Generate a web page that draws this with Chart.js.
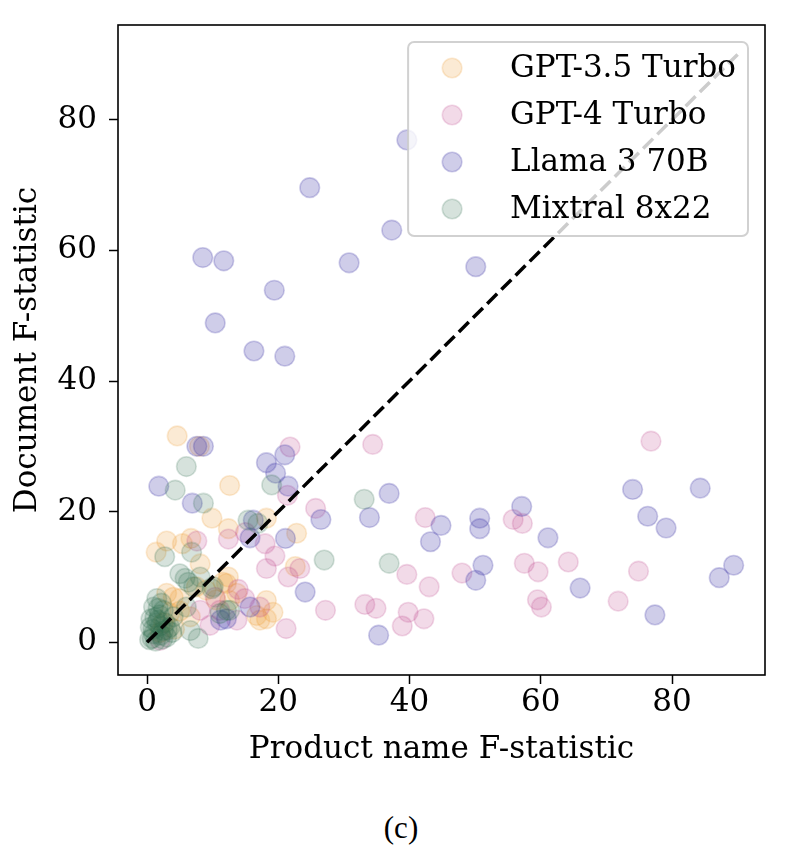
<!DOCTYPE html>
<html>
<head>
<meta charset="utf-8">
<script src="https://cdn.jsdelivr.net/npm/chart.js@4.4.1/dist/chart.umd.min.js"></script>
<style>
  body { margin: 0; background: #fff; }
  #wrap { position: relative; width: 802px; height: 858px; }
  #caption { position: absolute; left: 0; top: 810px; width: 802px; text-align: center;
             font-family: "Liberation Serif", serif; font-size: 31px; color: #000; }
</style>
</head>
<body>
<div id="wrap">
  <canvas id="fstat" width="802" height="800"></canvas>
  <div id="caption">(c)</div>
</div>
<script>
// tick labels
const xTickValues = [0, 20, 40, 60, 80];
const yTickValues = [0, 20, 40, 60, 80];

const seriesNames = ['GPT-3.5 Turbo', 'GPT-4 Turbo', 'Llama 3 70B', 'Mixtral 8x22'];

// [product name F, document F] per prompt
const gpt35Points = [
    [4.6, 31.6], [12.6, 24.0], [22.8, 16.7], [9.9, 19.0], [1.4, 13.8], [3.0, 15.5], [5.4, 15.1],
    [6.7, 15.9], [8.0, 30.0], [12.4, 17.4], [18.2, 19.0], [8.1, 12.0], [11.6, 9.2], [12.4, 10.0],
    [18.2, 6.4], [19.2, 4.6], [18.2, 3.6], [16.7, 4.1], [22.6, 11.6], [12.6, 6.4], [13.7, 7.5],
    [5.0, 6.7], [4.0, 6.9], [6.6, 3.9], [17.2, 3.4], [12.1, 9.0], [2.5, 3.0], [3.5, 4.5],
    [2.0, 1.5], [9.0, 8.0], [10.5, 6.5], [7.5, 8.5], [3.0, 7.5], [5.0, 4.8], [4.2, 2.0]
];
const gpt4Points = [
    [21.8, 29.9], [34.4, 30.3], [76.8, 30.8], [25.7, 20.5], [42.4, 19.1], [55.8, 18.8], [57.2, 18.2],
    [18.0, 15.1], [19.5, 13.2], [18.2, 11.3], [21.5, 10.0], [23.3, 11.3], [39.6, 10.4], [43.0, 8.5],
    [48.0, 10.6], [27.2, 4.9], [33.2, 5.8], [34.9, 5.2], [39.8, 4.6], [42.2, 3.6], [38.9, 2.5],
    [21.2, 2.1], [57.5, 12.1], [59.6, 10.8], [64.2, 12.3], [74.9, 10.9], [59.5, 6.5], [60.1, 5.4],
    [71.8, 6.3], [21.4, 22.5], [12.4, 15.8], [7.6, 15.5], [15.0, 16.8], [13.9, 8.1], [14.9, 6.7],
    [10.4, 6.9], [8.1, 4.9], [9.6, 2.6], [13.7, 3.4], [17.2, 5.4], [2.0, 0.3], [11.1, 4.9]
];
const llamaPoints = [
    [39.6, 76.9], [24.8, 69.6], [37.3, 63.1], [30.8, 58.1], [50.1, 57.5], [8.5, 58.9], [11.7, 58.4],
    [19.4, 53.9], [10.4, 48.9], [16.3, 44.6], [21.0, 43.8], [7.6, 30.0], [8.6, 30.0], [1.8, 23.9],
    [6.9, 21.3], [18.2, 27.5], [21.0, 28.7], [19.6, 25.9], [21.5, 23.9], [26.5, 18.8], [33.9, 19.1],
    [36.9, 22.8], [44.8, 17.9], [43.2, 15.4], [50.7, 19.0], [50.7, 17.4], [50.1, 9.5], [51.2, 11.8],
    [57.1, 20.8], [61.1, 16.0], [66.0, 8.3], [74.0, 23.4], [76.3, 19.3], [79.1, 17.5], [84.3, 23.6],
    [87.2, 9.9], [89.4, 11.8], [77.4, 4.2], [35.3, 1.1], [24.1, 7.7], [21.1, 15.9], [16.2, 18.7],
    [15.7, 16.0], [11.2, 3.4], [12.1, 3.6], [15.7, 5.4]
];
const mixtralPoints = [
    [6.0, 26.9], [4.3, 23.3], [8.6, 21.3], [19.0, 24.1], [33.1, 21.9], [27.0, 12.6], [36.9, 12.1],
    [15.4, 18.7], [16.9, 18.2], [2.7, 13.1], [6.8, 13.8], [5.8, 9.8], [8.1, 10.0], [10.1, 8.5],
    [6.3, 9.2], [7.1, 8.5], [9.9, 8.2], [11.1, 4.4], [7.8, 0.6], [6.6, 1.8], [1.5, 6.7], [1.0, 5.4],
    [2.5, 4.9], [0.5, 2.3], [1.0, 1.3], [2.5, 1.8], [4.0, 3.9], [3.5, 2.3], [12.6, 4.9], [12.1, 4.9],
    [6.0, 5.4], [5.0, 10.5], [1.7, 5.2], [0.8, 0.6], [1.5, 3.0], [2.0, 2.5], [3.0, 0.8], [1.2, 3.8],
    [2.2, 6.0], [3.8, 1.5], [0.4, 0.4], [1.3, 0.2], [2.1, 1.1], [0.9, 2.0], [1.7, 3.4], [2.8, 3.0],
    [0.6, 3.6], [3.1, 1.9], [1.9, 4.2], [2.4, 0.5]
];
// y = x reference line
const diagonal = [[0, 0], [90, 90]];

const seriesColors = [
    'rgba(236, 160, 60, 0.22)',
    'rgba(190, 70, 140, 0.2)',
    'rgba(70, 60, 170, 0.26)',
    'rgba(50, 110, 80, 0.2)'
];

const serif = '"DejaVu Serif", serif';
const toXY = arr => arr.map(p => ({ x: p[0], y: p[1] }));

function scatterSet(i, points, order) {
    return {
        type: 'scatter',
        label: seriesNames[i],
        data: toXY(points),
        backgroundColor: seriesColors[i],
        borderColor: seriesColors[i],
        borderWidth: 1.6,
        pointRadius: 9.8,
        order: order
    };
}

// matplotlib-style legend inside the axes, semi-transparent over the data
const innerLegend = {
    id: 'innerLegend',
    afterDatasetsDraw(chart) {
        const ctx = chart.ctx;
        const area = chart.chartArea;
        ctx.save();
        ctx.font = '31px ' + serif;
        const textW = Math.max(...seriesNames.map(n => ctx.measureText(n).width));
        const w = 102 + textW + 12;
        const h = 194;
        const left = area.right - 17 - w;
        const top = area.top + 17;
        ctx.beginPath();
        ctx.roundRect(left, top, w, h, 6);
        ctx.fillStyle = 'rgba(255, 255, 255, 0.8)';
        ctx.fill();
        ctx.lineWidth = 2;
        ctx.strokeStyle = 'rgba(204, 204, 204, 0.9)';
        ctx.stroke();
        seriesNames.forEach((name, i) => {
            const cy = top + 26 + i * 47;
            ctx.beginPath();
            ctx.arc(left + 44, cy, 9.8, 0, Math.PI * 2);
            ctx.fillStyle = seriesColors[i];
            ctx.fill();
            ctx.lineWidth = 1.6;
            ctx.strokeStyle = seriesColors[i];
            ctx.stroke();
            ctx.fillStyle = '#000';
            ctx.textBaseline = 'middle';
            ctx.fillText(name, left + 102, cy + 1);
        });
        ctx.restore();
    },
    afterDraw(chart) {
        const ctx = chart.ctx;
        const a = chart.chartArea;
        ctx.save();
        ctx.strokeStyle = '#000';
        ctx.lineWidth = 1.6;
        ctx.strokeRect(a.left, a.top, a.right - a.left, a.bottom - a.top);
        ctx.restore();
    }
};

new Chart(document.getElementById('fstat'), {
    data: {
        datasets: [
            {
                type: 'line',
                label: 'y = x',
                data: toXY(diagonal),
                borderColor: '#000',
                borderWidth: 3.5,
                borderDash: [14, 6],
                pointRadius: 0,
                fill: false,
                order: 0
            },
            scatterSet(3, mixtralPoints, 1),
            scatterSet(2, llamaPoints, 2),
            scatterSet(1, gpt4Points, 3),
            scatterSet(0, gpt35Points, 4)
        ]
    },
    options: {
        responsive: false,
        animation: false,
        layout: { padding: { top: 25, right: 37, left: 0, bottom: 25 } },
        plugins: {
            legend: { display: false },
            tooltip: { enabled: false }
        },
        scales: {
            x: {
                type: 'linear',
                min: -4.42,
                max: 94.17,
                afterBuildTicks: s => { s.ticks = xTickValues.map(v => ({ value: v })); },
                afterFit: s => { s.height = 100; s.paddingLeft = 0; s.paddingRight = 0; },
                grid: { drawOnChartArea: false, drawTicks: true, tickLength: 9, tickWidth: 1.5, tickColor: '#000' },
                border: { display: false },
                ticks: { color: '#000', font: { family: serif, size: 31 }, padding: 0, maxRotation: 0 },
                title: { display: true, text: 'Product name F-statistic', color: '#000',
                         font: { family: serif, size: 31 }, padding: { top: 0, bottom: 6 } }
            },
            y: {
                type: 'linear',
                min: -5.0,
                max: 94.5,
                afterBuildTicks: s => { s.ticks = yTickValues.map(v => ({ value: v })); },
                afterFit: s => { s.width = 118; s.paddingTop = 0; s.paddingBottom = 0; },
                grid: { drawOnChartArea: false, drawTicks: true, tickLength: 9, tickWidth: 1.5, tickColor: '#000' },
                border: { display: false },
                ticks: { color: '#000', font: { family: serif, size: 31 }, padding: 12 },
                title: { display: true, text: 'Document F-statistic', color: '#000',
                         font: { family: serif, size: 31 }, padding: { top: 9, bottom: 0 } }
            }
        }
    },
    plugins: [innerLegend]
});
</script>
</body>
</html>
